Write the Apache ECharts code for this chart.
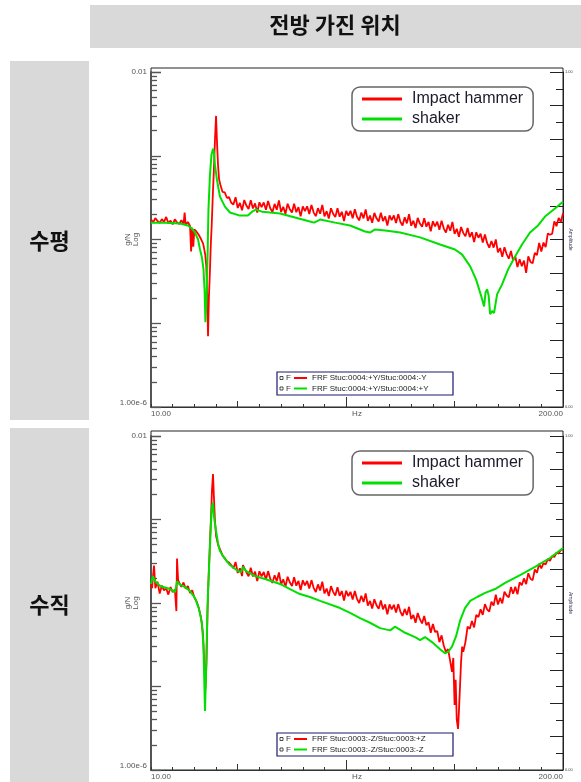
<!DOCTYPE html>
<html><head><meta charset="utf-8">
<script src="https://cdn.jsdelivr.net/npm/echarts@6/dist/echarts.min.js"></script>
<style>html,body{margin:0;padding:0;background:#fff}#c{width:581px;height:782px}</style>
</head><body><div id="c"></div>
<script>
// ---------- data (Hz, g/N) ----------
const seriesNames = ['Impact hammer', 'shaker'];
const frfNames1 = ['FRF Stuc:0004:+Y/Stuc:0004:-Y', 'FRF Stuc:0004:+Y/Stuc:0004:+Y'];
const frfNames2 = ['FRF Stuc:0003:-Z/Stuc:0003:+Z', 'FRF Stuc:0003:-Z/Stuc:0003:-Z'];
const rowTitles = ['수평', '수직'];
const headerTitle = '전방 가진 위치';
const xTickLabels = {10: '10.00', 200: '200.00'};

// 수평 – Impact hammer
const hRed = [[10,1.74e-4],[11,1.60e-4],[12,1.80e-4],[13,1.66e-4],[14,1.58e-4],[15,1.75e-4],[16,1.62e-4],[17,1.86e-4],[18,1.57e-4],[19,1.68e-4],[20,1.52e-4],[21,1.74e-4],[22,1.60e-4],[23,1.53e-4],[24,1.70e-4],[25,1.52e-4],[25.5,2.1e-4],[26,1.50e-4],[27,1.62e-4],[28,1.45e-4],[28.5,0.72e-4],[29,1.38e-4],[29.5,0.82e-4],[30,1.32e-4],[31,1.24e-4],[32,1.14e-4],[33,1.02e-4],[34,0.90e-4],[34.5,0.78e-4],[35,0.66e-4],[35.5,0.48e-4],[36,0.18e-4],[36.3,0.07e-4],[36.7,0.2e-4],[37.2,0.44e-4],[37.6,0.9e-4],[38,1.5e-4],[38.6,3.9e-4],[39,6.8e-4],[39.5,1.55e-3],[40,2.99e-3],[40.4,1.55e-3],[40.9,7.8e-4],[41.4,5.2e-4],[42,4.5e-4],[43,3.7e-4],[44,3.65e-4],[45,3.15e-4],[46,3.2e-4],[47,2.75e-4],[48,2.62e-4],[49,3.2e-4],[50,2.38e-4],[51,2.73e-4],[52,2.23e-4],[53,2.96e-4],[54,2.54e-4],[55,2.31e-4],[56,2.95e-4],[57,2.35e-4],[58,2.70e-4],[59,2.10e-4],[60,2.78e-4],[61,2.44e-4],[62,2.77e-4],[63,2.26e-4],[64,2.89e-4],[65,2.36e-4],[66,2.12e-4],[67,2.66e-4],[68,2.27e-4],[69,2.92e-4],[70,2.13e-4],[71,2.46e-4],[72,2.02e-4],[73,2.67e-4],[74,2.30e-4],[75,2.10e-4],[76,2.67e-4],[77,2.12e-4],[78,2.43e-4],[79,1.89e-4],[80,2.49e-4],[81,2.18e-4],[82,2.49e-4],[83,2.02e-4],[84,2.59e-4],[85,2.11e-4],[86,1.90e-4],[87,2.37e-4],[88,2.03e-4],[89,2.59e-4],[90,1.89e-4],[91,2.18e-4],[92,1.78e-4],[93,2.36e-4],[94,2.03e-4],[95,1.85e-4],[96,2.36e-4],[97,1.87e-4],[98,2.14e-4],[99,1.66e-4],[100,2.20e-4],[101,1.93e-4],[102,2.20e-4],[103,1.79e-4],[104,2.30e-4],[105,1.87e-4],[106,1.69e-4],[107,2.10e-4],[108,1.79e-4],[109,2.29e-4],[110,1.67e-4],[111,1.93e-4],[112,1.58e-4],[113,2.08e-4],[114,1.79e-4],[115,1.64e-4],[116,2.09e-4],[117,1.66e-4],[118,1.89e-4],[119,1.47e-4],[120,1.94e-4],[121,1.70e-4],[122,1.94e-4],[123,1.57e-4],[124,2.01e-4],[125,1.63e-4],[126,1.47e-4],[127,1.84e-4],[128,1.56e-4],[129,2.00e-4],[130,1.46e-4],[131,1.68e-4],[132,1.37e-4],[133,1.81e-4],[134,1.55e-4],[135,1.42e-4],[136,1.79e-4],[137,1.42e-4],[138,1.62e-4],[139,1.25e-4],[140,1.65e-4],[141,1.43e-4],[142,1.63e-4],[143,1.31e-4],[144,1.68e-4],[145,1.36e-4],[146,1.21e-4],[147,1.50e-4],[148,1.27e-4],[149,1.62e-4],[150,1.17e-4],[151,1.34e-4],[152,1.08e-4],[153,1.41e-4],[154,1.20e-4],[155,1.09e-4],[156,1.37e-4],[157,1.07e-4],[158,1.22e-4],[159,0.93e-4],[160,1.22e-4],[161,1.05e-4],[162,1.17e-4],[163,0.92e-4],[164,1.15e-4],[165,0.91e-4],[166,0.80e-4],[167,0.96e-4],[168,0.80e-4],[169,1.00e-4],[170,0.70e-4],[171,0.79e-4],[172,0.62e-4],[173,0.81e-4],[174,0.67e-4],[175,0.59e-4],[176,0.73e-4],[177,0.56e-4],[178,0.63e-4],[179,0.47e-4],[180,0.58e-4],[181,0.48e-4],[182,0.56e-4],[183,0.40e-4],[184,0.63e-4],[185,0.54e-4],[186,0.52e-4],[187,0.69e-4],[188,0.65e-4],[189,0.91e-4],[190,0.72e-4],[191,0.92e-4],[192,0.81e-4],[193,1.18e-4],[194,1.14e-4],[195,1.17e-4],[196,1.65e-4],[197,1.44e-4],[198,1.81e-4],[199,1.62e-4],[200,2.05e-4]];

// 수평 – shaker
const hGreen = [[10,1.59e-4],[16.5,1.59e-4],[23.4,1.55e-4],[27,1.47e-4],[28.9,1.35e-4],[30.3,1.21e-4],[31.7,1.0e-4],[32.6,0.76e-4],[33.5,0.61e-4],[34.2,0.44e-4],[34.7,0.254e-4],[35.1,0.103e-4],[35.6,0.193e-4],[36.1,0.66e-4],[36.5,2.28e-4],[37.2,5.95e-4],[37.9,1.03e-3],[38.6,1.21e-3],[39,1.11e-3],[39.5,7.8e-4],[40.4,5.18e-4],[41.8,3.25e-4],[44.1,2.47e-4],[46.4,2.10e-4],[51,1.93e-4],[54.7,1.93e-4],[56.6,2.15e-4],[58.4,2.28e-4],[61.2,2.15e-4],[64.9,2.10e-4],[69.5,2.04e-4],[76.4,1.83e-4],[83.3,1.64e-4],[85.2,1.59e-4],[88,1.73e-4],[94.9,1.59e-4],[101.8,1.47e-4],[108.7,1.245e-4],[111,1.21e-4],[113.3,1.32e-4],[118,1.28e-4],[124.9,1.21e-4],[134.1,1.06e-4],[143.3,0.87e-4],[150.2,0.76e-4],[153.5,0.66e-4],[157.2,0.477e-4],[159.9,0.334e-4],[162.3,0.21e-4],[163.6,0.159e-4],[164.3,0.234e-4],[165,0.254e-4],[165.7,0.215e-4],[166.4,0.128e-4],[167.3,0.14e-4],[168.2,0.132e-4],[169.6,0.221e-4],[171.9,0.291e-4],[174.7,0.44e-4],[177.9,0.628e-4],[181.1,0.87e-4],[184.8,1.21e-4],[188.5,1.47e-4],[191.7,1.88e-4],[196.3,2.34e-4],[200,2.83e-4]];

// 수직 – Impact hammer
const vRed = [[10,1.7e-4],[10.5,1.5e-4],[11,2.2e-4],[11.4,2.8e-4],[12,1.5e-4],[13,1.8e-4],[14,1.3e-4],[15,1.62e-4],[16,1.42e-4],[17,1.5e-4],[18,1.26e-4],[19,1.55e-4],[20,1.35e-4],[21,1.45e-4],[21.7,0.8e-4],[22,3.4e-4],[22.5,1.9e-4],[23,1.75e-4],[24,1.56e-4],[25,1.76e-4],[26,1.48e-4],[27,1.6e-4],[28,1.32e-4],[29,1.42e-4],[30,1.16e-4],[31,1.05e-4],[32,0.88e-4],[33,0.68e-4],[34,0.42e-4],[34.5,0.2e-4],[35.1,0.093e-4],[35.6,0.2e-4],[36.1,0.9e-4],[36.5,1.8e-4],[37.2,5.5e-4],[37.7,1.1e-3],[38.1,2.2e-3],[38.6,3.5e-3],[39,1.9e-3],[39.5,9.6e-4],[40,6.4e-4],[41,4.9e-4],[42,4.3e-4],[43,3.7e-4],[44,3.45e-4],[45,3.15e-4],[46,3.05e-4],[47,2.85e-4],[48,2.60e-4],[49,3.1e-4],[50,2.29e-4],[51,2.60e-4],[52,2.10e-4],[52.4,2.85e-4],[53,2.74e-4],[54,2.33e-4],[55,2.09e-4],[56,2.64e-4],[57,2.08e-4],[58,2.37e-4],[59,1.83e-4],[60,2.40e-4],[61,2.08e-4],[62,2.35e-4],[63,1.90e-4],[64,2.41e-4],[65,1.95e-4],[66,1.74e-4],[67,2.15e-4],[68,1.82e-4],[69,2.32e-4],[70,1.67e-4],[71,1.92e-4],[72,1.56e-4],[73,2.06e-4],[74,1.77e-4],[75,1.60e-4],[76,2.03e-4],[77,1.61e-4],[78,1.84e-4],[79,1.43e-4],[80,1.87e-4],[81,1.63e-4],[82,1.84e-4],[83,1.49e-4],[84,1.88e-4],[85,1.52e-4],[86,1.35e-4],[87,1.67e-4],[88,1.41e-4],[89,1.80e-4],[90,1.30e-4],[91,1.49e-4],[92,1.21e-4],[93,1.59e-4],[94,1.36e-4],[95,1.23e-4],[96,1.55e-4],[97,1.22e-4],[98,1.39e-4],[99,1.07e-4],[100,1.40e-4],[101,1.21e-4],[102,1.36e-4],[103,1.10e-4],[104,1.39e-4],[105,1.12e-4],[106,1.00e-4],[107,1.22e-4],[108,1.03e-4],[109,1.30e-4],[110,0.93e-4],[111,1.06e-4],[112,0.86e-4],[113,1.11e-4],[114,0.94e-4],[115,0.85e-4],[116,1.07e-4],[117,0.84e-4],[118,0.96e-4],[119,0.73e-4],[120,0.96e-4],[121,0.84e-4],[122,0.95e-4],[123,0.77e-4],[124,0.97e-4],[125,0.79e-4],[126,0.70e-4],[127,0.85e-4],[128,0.72e-4],[129,0.90e-4],[130,0.64e-4],[131,0.72e-4],[132,0.58e-4],[133,0.76e-4],[134,0.64e-4],[135,0.57e-4],[136,0.70e-4],[137,0.54e-4],[138,0.59e-4],[139,0.44e-4],[140,0.56e-4],[141,0.45e-4],[142,0.46e-4],[143,0.34e-4],[144,0.41e-4],[145,0.31e-4],[146,0.26e-4],[147,0.28e-4],[148,0.20e-4],[148.8,0.15e-4],[149.4,0.22e-4],[150,0.06e-4],[150.5,0.12e-4],[151,0.04e-4],[151.6,0.031e-4],[152,0.05e-4],[152.5,0.1e-4],[153,0.2e-4],[153.5,0.3e-4],[154,0.26e-4],[155,0.34e-4],[156,0.52e-4],[157,0.49e-4],[158,0.61e-4],[159,0.51e-4],[160,0.72e-4],[161,0.68e-4],[162,0.84e-4],[163,0.72e-4],[164,0.97e-4],[165,0.84e-4],[166,0.79e-4],[167,1.04e-4],[168,0.93e-4],[169,1.26e-4],[170,0.96e-4],[171,1.15e-4],[172,0.99e-4],[173,1.37e-4],[174,1.23e-4],[175,1.17e-4],[176,1.55e-4],[177,1.29e-4],[178,1.56e-4],[179,1.27e-4],[180,1.77e-4],[181,1.63e-4],[182,1.97e-4],[183,1.68e-4],[184,2.27e-4],[185,1.95e-4],[186,1.88e-4],[187,2.52e-4],[188,2.30e-4],[189,2.95e-4],[190,2.6e-4],[191,3.0e-4],[192,2.9e-4],[193,3.35e-4],[194,3.2e-4],[195,3.65e-4],[196,3.55e-4],[197,4.0e-4],[198,3.9e-4],[199,4.3e-4],[200,4.4e-4]];

// 수직 – shaker
const vGreen = [[10,1.69e-4],[10.9,2.1e-4],[11.8,1.83e-4],[14.2,1.6e-4],[18.8,1.47e-4],[21.1,1.35e-4],[22,1.83e-4],[22.9,1.69e-4],[25.7,1.55e-4],[28,1.39e-4],[30.3,1.15e-4],[32.1,0.85e-4],[33.5,0.58e-4],[34.2,0.3e-4],[34.9,0.051e-4],[35.4,0.153e-4],[35.8,0.46e-4],[36.3,1.39e-4],[37,3.66e-4],[37.7,9.6e-4],[38.1,1.45e-3],[38.6,1.58e-3],[39,1.1e-3],[40,7.3e-4],[40.9,5.2e-4],[41.8,4.2e-4],[44.1,3.37e-4],[46.4,2.85e-4],[50.1,2.42e-4],[51.5,2.35e-4],[52.4,2.7e-4],[53.8,2.42e-4],[58,2.1e-4],[62.6,1.94e-4],[69.5,1.69e-4],[74.1,1.47e-4],[78.7,1.28e-4],[83.3,1.18e-4],[88,1.06e-4],[97.2,0.87e-4],[101.8,0.76e-4],[106.4,0.66e-4],[111,0.58e-4],[115.6,0.5e-4],[120.3,0.47e-4],[122.5,0.52e-4],[127.2,0.44e-4],[131.8,0.39e-4],[134.1,0.36e-4],[136.4,0.39e-4],[139.6,0.34e-4],[143.3,0.28e-4],[145.6,0.25e-4],[147,0.26e-4],[148.8,0.3e-4],[150.7,0.40e-4],[152.5,0.61e-4],[154.8,0.87e-4],[157.2,1.06e-4],[160.4,1.18e-4],[164.1,1.32e-4],[168.7,1.47e-4],[173.3,1.74e-4],[180.2,2.16e-4],[187.1,2.7e-4],[194,3.46e-4],[200,4.55e-4]];

// ---------- chart ----------
const RED = '#ff0000', GREEN = '#00e000';
const FONT = '"Liberation Sans", Arial, sans-serif';
const KFONT = '"Noto Sans CJK KR", sans-serif';
const chart = echarts.init(document.getElementById('c'), null, {renderer: 'canvas'});

const grids = [
  {left: 151, top: 72, width: 412, height: 335, outerBoundsMode: 'none', containLabel: false},
  {left: 151, top: 436, width: 412, height: 334, outerBoundsMode: 'none', containLabel: false}
];

function mainX(gi) {
  return {
    type: 'value', gridIndex: gi, min: 10, max: 200, interval: 10,
    name: 'Hz', nameLocation: 'middle', nameGap: 3, nameMoveOverlap: false,
    nameTextStyle: {fontSize: 8, color: '#555', fontFamily: FONT},
    axisLine: {show: true, lineStyle: {color: '#333', width: 1}},
    axisTick: {show: true, inside: true, length: 3, lineStyle: {color: '#333'}},
    splitLine: {show: false},
    axisLabel: {
      interval: 0, fontSize: 8, color: '#555', margin: 3, fontFamily: FONT,
      alignMinLabel: 'left', alignMaxLabel: 'right',
      formatter: v => xTickLabels[v] || ''
    }
  };
}
function majorX(gi, vals, len) {
  return {
    type: 'value', gridIndex: gi, min: 10, max: 200, position: 'bottom',
    axisLine: {show: false}, axisLabel: {show: false}, splitLine: {show: false},
    axisTick: {show: true, inside: true, length: len, customValues: vals, lineStyle: {color: '#333'}}
  };
}
function logY(gi) {
  return {
    type: 'log', logBase: 10, gridIndex: gi, min: 1e-6, max: 0.01,
    name: 'g/N\nLog', nameLocation: 'middle', nameRotate: 90, nameGap: 11, nameMoveOverlap: false,
    nameTextStyle: {fontSize: 8, color: '#555', lineHeight: 8, fontFamily: FONT},
    axisLine: {show: true, lineStyle: {color: '#555', width: 2}},
    axisTick: {show: true, inside: true, length: 10, lineStyle: {color: '#555', width: 1.3}},
    minorTick: {show: true, splitNumber: 9, length: 6, lineStyle: {color: '#555', width: 1.3}},
    splitLine: {show: false}, minorSplitLine: {show: false},
    axisLabel: {
      fontSize: 8, color: '#555', margin: 4, fontFamily: FONT,
      verticalAlignMinLabel: 'bottom',
      formatter: v => (v > 0.005 ? '0.01' : (v < 2e-6 ? '1.00e-6' : ''))
    }
  };
}
function rightY(gi) {
  return {
    type: 'value', gridIndex: gi, position: 'right', min: 0, max: 20, interval: 2,
    name: 'Amplitude', nameLocation: 'middle', nameRotate: -90, nameGap: 5, nameMoveOverlap: false,
    nameTextStyle: {fontSize: 5, color: '#335', fontFamily: FONT},
    axisLine: {show: true, lineStyle: {color: '#222', width: 1}},
    axisTick: {show: true, inside: true, length: 13, lineStyle: {color: '#222'}},
    minorTick: {show: true, splitNumber: 2, length: 7, lineStyle: {color: '#222'}},
    splitLine: {show: false},
    axisLabel: {fontSize: 4, color: '#444', margin: 2, fontFamily: FONT,
      formatter: v => (v === 20 ? '1.00' : (v === 0 ? '0.00' : ''))}
  };
}

function lineSeries(name, data, xi, yi, color, w, z) {
  return {
    name, type: 'line', data, xAxisIndex: xi, yAxisIndex: yi,
    showSymbol: false, symbol: 'none', z,
    lineStyle: {color, width: w}, itemStyle: {color},
    emphasis: {disabled: true}
  };
}

function legendBox(top) {
  return {
    left: 352, top, orient: 'vertical', data: seriesNames,
    icon: 'rect', itemWidth: 40, itemHeight: 3, itemGap: 4,
    padding: [4, 10, 4, 10],
    backgroundColor: '#fff', borderColor: '#666', borderWidth: 1.5, borderRadius: 8,
    selectedMode: false,
    textStyle: {fontSize: 16, color: '#1a1a2a', fontFamily: FONT, padding: [0, 0, 0, 5]}
  };
}

function frfBox(y, names) {
  const kids = [
    {type: 'rect', shape: {x: 0, y: 0, width: 176, height: 23}, style: {fill: '#fff', stroke: '#1a1a70', lineWidth: 1.2}}
  ];
  const cols = [RED, GREEN];
  names.forEach((n, i) => {
    const cy = 6 + i * 10.5;
    kids.push({type: 'rect', shape: {x: 3, y: cy - 1.5, width: 3, height: 3}, style: {fill: 'none', stroke: '#222', lineWidth: 0.8}});
    kids.push({type: 'text', style: {x: 9, y: cy, text: 'F', fontSize: 8, fill: '#333', fontFamily: FONT, verticalAlign: 'middle'}});
    kids.push({type: 'line', shape: {x1: 17, y1: cy, x2: 30, y2: cy}, style: {stroke: cols[i], lineWidth: 2}});
    kids.push({type: 'text', style: {x: 35, y: cy, text: n, fontSize: 8, fill: '#222', fontFamily: FONT, verticalAlign: 'middle'}});
  });
  return {type: 'group', x: 277, y, z: 50, children: kids};
}

const option = {
  animation: false,
  textStyle: {fontFamily: FONT},
  grid: grids,
  xAxis: [mainX(0), mainX(1), majorX(0, [100], 10), majorX(0, [50, 150], 6), majorX(1, [100], 10), majorX(1, [50, 150], 6)],
  yAxis: [logY(0), rightY(0), logY(1), rightY(1)],
  legend: [legendBox(87), legendBox(451)],
  series: [
    lineSeries(seriesNames[0], hRed, 0, 0, RED, 1.8, 2),
    lineSeries(seriesNames[1], hGreen, 0, 0, GREEN, 2, 3),
    lineSeries(seriesNames[0], vRed, 1, 2, RED, 1.8, 2),
    lineSeries(seriesNames[1], vGreen, 1, 2, GREEN, 2, 3)
  ],
  graphic: [
    {type: 'rect', z: -10, shape: {x: 90, y: 5, width: 491, height: 43}, style: {fill: '#d9d9d9'}},
    {type: 'text', z: -5, style: {x: 335, y: 25, text: headerTitle, fontSize: 22, fontWeight: 'bold', fill: '#111', fontFamily: KFONT, align: 'center', verticalAlign: 'middle'}},
    {type: 'rect', z: -10, shape: {x: 10, y: 61, width: 79, height: 359}, style: {fill: '#d9d9d9'}},
    {type: 'rect', z: -10, shape: {x: 10, y: 428, width: 79, height: 354}, style: {fill: '#d9d9d9'}},
    {type: 'text', z: -5, style: {x: 49.5, y: 241, text: rowTitles[0], fontSize: 22, fontWeight: 'bold', fill: '#111', fontFamily: KFONT, align: 'center', verticalAlign: 'middle'}},
    {type: 'text', z: -5, style: {x: 49.5, y: 605, text: rowTitles[1], fontSize: 22, fontWeight: 'bold', fill: '#111', fontFamily: KFONT, align: 'center', verticalAlign: 'middle'}},
    {type: 'rect', z: -1, shape: {x: 151, y: 68, width: 412, height: 339}, style: {fill: 'none', stroke: '#222', lineWidth: 1}},
    {type: 'rect', z: -1, shape: {x: 151, y: 431, width: 412, height: 339}, style: {fill: 'none', stroke: '#222', lineWidth: 1}},
    frfBox(372, frfNames1),
    frfBox(733, frfNames2)
  ]
};
chart.setOption(option);
</script></body></html>
